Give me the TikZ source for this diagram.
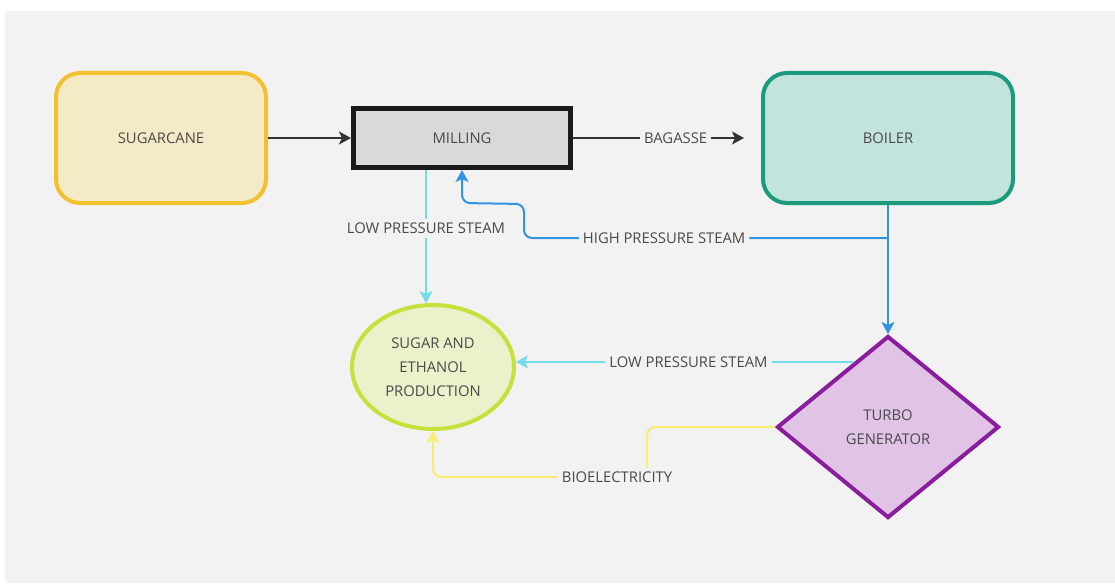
\documentclass[tikz,border=0pt]{standalone}
\usepackage{fontspec}
\setmainfont{Open Sans}
\usetikzlibrary{shapes.geometric,arrows.meta,calc}

\definecolor{panel}{HTML}{F2F2F2}
\definecolor{txt}{HTML}{4A4A4A}
\definecolor{canedraw}{HTML}{F2C12E}
\definecolor{canefill}{HTML}{F5EAC6}
\definecolor{milldraw}{HTML}{1A1A1A}
\definecolor{millfill}{HTML}{D9D9D9}
\definecolor{boildraw}{HTML}{1B9A7C}
\definecolor{boilfill}{HTML}{C3E4DC}
\definecolor{proddraw}{HTML}{C6E03C}
\definecolor{prodfill}{HTML}{EAF2CB}
\definecolor{turbdraw}{HTML}{8A1D9E}
\definecolor{turbfill}{HTML}{E0C3E5}
\definecolor{hpblue}{HTML}{3393E3}
\definecolor{lpcyan}{HTML}{72DDEA}
\definecolor{elyellow}{HTML}{F7EE70}
\definecolor{flowdark}{HTML}{333333}

\tikzset{
  x=1pt, y=-1pt,
  every node/.style={text=txt, font=\fontsize{14.8}{24}\selectfont},
  unit/.style={line width=4pt, inner sep=0pt, align=center},
  lbl/.style={fill=panel, inner sep=4pt, text=txt},
  tip/.style={-{Stealth[length=12pt,width=13pt,inset=3pt]}},
  darkflow/.style={draw=flowdark, line width=2pt},
  hpflow/.style={draw=hpblue, line width=2pt},
  lpflow/.style={draw=lpcyan, line width=2pt},
  elflow/.style={draw=elyellow, line width=2pt},
}

\begin{document}
\begin{tikzpicture}
\useasboundingbox (0,0) rectangle (1115,583);
\fill[white] (0,0) rectangle (1115,583);
\fill[panel] (5,11) rectangle (1115,583);

% process units
\node[unit, rectangle, rounded corners=24pt, draw=canedraw, fill=canefill,
      minimum width=210pt, minimum height=130pt] (cane) at (161,138) {SUGARCANE};
\node[unit, rectangle, line width=5pt, draw=milldraw, fill=millfill,
      minimum width=217pt, minimum height=59pt] (mill) at (462,138) {MILLING};
\node[unit, rectangle, rounded corners=24pt, draw=boildraw, fill=boilfill,
      minimum width=250pt, minimum height=130pt] (boiler) at (888,138) {BOILER};
\node[unit, ellipse, draw=proddraw, fill=prodfill,
      minimum width=162pt, minimum height=124pt] (prod) at (433,367)
      {SUGAR AND\\ETHANOL\\PRODUCTION};
\node[unit, diamond, draw=turbdraw, fill=turbfill,
      minimum width=222pt, minimum height=182pt] (turbo) at (888,427)
      {TURBO\\GENERATOR};

% cane to mill
\draw[darkflow, tip] (cane.east) -- (mill.west);

% bagasse to boiler
\coordinate (bagend) at ($(boiler.west)+(-17,0)$);
\draw[darkflow, tip] (mill.east) -- node[lbl, pos=0.6] {BAGASSE} (bagend);

% high pressure steam: boiler to turbine, and back to the mill
\draw[hpflow, tip] (boiler.south) -- (turbo.north);
\coordinate (hpsplit) at ($(boiler.south)+(0,33)$);
\draw[hpflow, tip, rounded corners=8pt] (hpsplit)
  -- node[lbl, pos=0.615] {HIGH PRESSURE STEAM} ++(-364,0)
  -- ++(0,-34) -- (mill.south |- 0,203) -- (mill.south);

% low pressure steam from the mill
\coordinate (lpmill) at ([xshift=75pt]mill.south west);
\draw[lpflow, tip] (lpmill) -- node[lbl, pos=0.44] {LOW PRESSURE STEAM} (lpmill |- prod.north);

% low pressure steam from the turbine
\coordinate (lpturb) at ($(turbo.west)!0.7!(turbo.north)$);
\draw[lpflow, tip] (lpturb) -- node[lbl, pos=0.49] {LOW PRESSURE STEAM} (lpturb -| prod.east);

% bioelectricity
\draw[elflow, tip, rounded corners=8pt] (turbo.west) -- ++(-128,0) -- ++(0,50)
  -- node[lbl, pos=0.14] {BIOELECTRICITY} (prod.south |- 0,477) -- (prod.south);
\end{tikzpicture}
\end{document}
